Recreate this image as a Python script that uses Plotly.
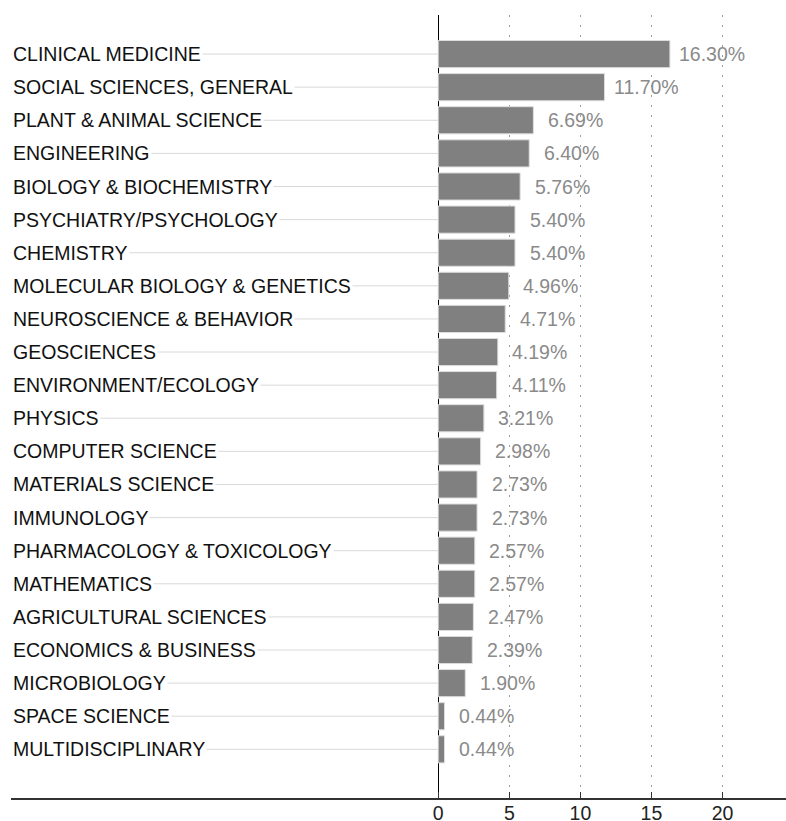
import plotly.graph_objects as go

categories = [
    "CLINICAL MEDICINE", "SOCIAL SCIENCES, GENERAL", "PLANT & ANIMAL SCIENCE",
    "ENGINEERING", "BIOLOGY & BIOCHEMISTRY", "PSYCHIATRY/PSYCHOLOGY", "CHEMISTRY",
    "MOLECULAR BIOLOGY & GENETICS", "NEUROSCIENCE & BEHAVIOR", "GEOSCIENCES",
    "ENVIRONMENT/ECOLOGY", "PHYSICS", "COMPUTER SCIENCE", "MATERIALS SCIENCE",
    "IMMUNOLOGY", "PHARMACOLOGY & TOXICOLOGY", "MATHEMATICS", "AGRICULTURAL SCIENCES",
    "ECONOMICS & BUSINESS", "MICROBIOLOGY", "SPACE SCIENCE", "MULTIDISCIPLINARY",
]
values = [16.30, 11.70, 6.69, 6.40, 5.76, 5.40, 5.40, 4.96, 4.71, 4.19, 4.11,
          3.21, 2.98, 2.73, 2.73, 2.57, 2.57, 2.47, 2.39, 1.90, 0.44, 0.44]
x_ticks = [0, 5, 10, 15, 20]

FONT = "Liberation Sans, Arial, sans-serif"
FS = 19.5
X_MIN, X_MAX = -30.07, 24.47

fig = go.Figure()
fig.add_trace(go.Bar(
    x=values, y=categories, orientation="h",
    marker=dict(color="#808080", line=dict(color="#dedede", width=1)),
    hoverinfo="skip",
))

for cat, val in zip(categories, values):
    fig.add_shape(type="line", xref="x", yref="y", x0=X_MIN, x1=0, y0=cat, y1=cat,
                  line=dict(color="#d9d9d9", width=1), layer="below")
    fig.add_annotation(x=0, xref="paper", y=cat, yref="y", text=cat, showarrow=False,
                       xanchor="left", yanchor="middle", bgcolor="white", borderpad=1,
                       font=dict(family=FONT, size=FS, color="#111111"))
    fig.add_annotation(x=val, xref="x", y=cat, yref="y", text=f"{val:.2f}%",
                       showarrow=False, xanchor="center", yanchor="middle", xshift=42,
                       font=dict(family=FONT, size=FS, color="#8a8a8a"))

fig.update_xaxes(
    range=[X_MIN, X_MAX], tickvals=x_ticks, ticktext=[str(t) for t in x_ticks],
    showgrid=True, gridcolor="#9a9a9a", gridwidth=1, griddash="2px,8px",
    ticks="inside", ticklen=6, tickcolor="#333333",
    showline=True, linecolor="#333333", linewidth=1.5,
    zeroline=True, zerolinecolor="#000000", zerolinewidth=1,
    tickfont=dict(family=FONT, size=FS, color="#222222"),
    ticklabelstandoff=-3,
    automargin=False,
)
fig.update_yaxes(
    type="category", categoryorder="array", categoryarray=categories,
    range=[22.47, -1.18], showticklabels=False, showgrid=False,
    zeroline=False, showline=False, ticks="", automargin=False,
)
fig.update_layout(
    width=786, height=821,
    margin=dict(l=11, r=0, t=15, b=23),
    plot_bgcolor="white", paper_bgcolor="white",
    bargap=0.18, showlegend=False,
    font=dict(family=FONT, size=FS),
)
fig.write_html("out.html", config={"displayModeBar": False},
               post_script="document.body.style.margin='0';")
